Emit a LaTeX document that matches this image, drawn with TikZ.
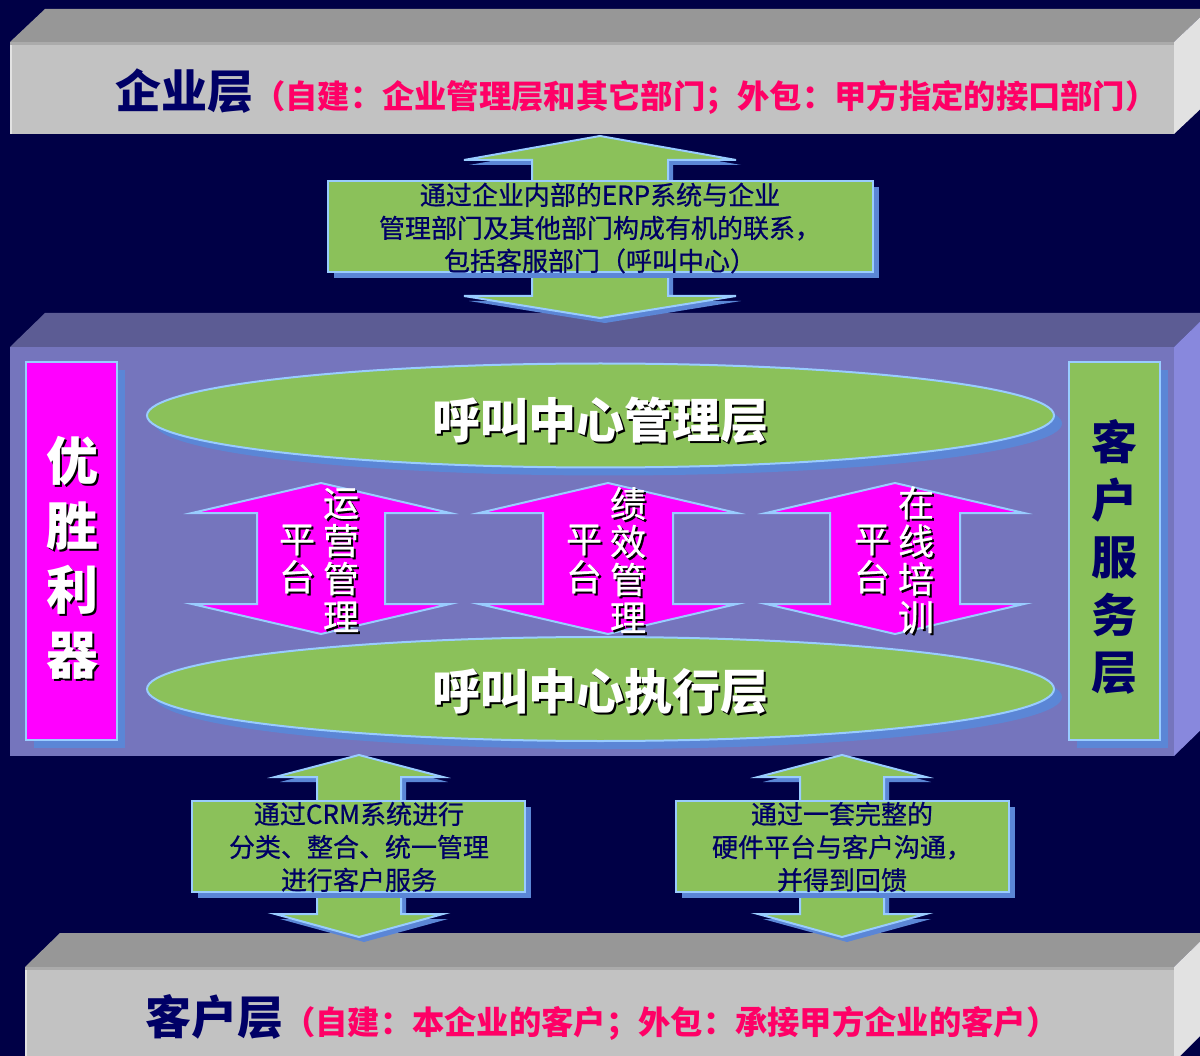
\documentclass[tikz,border=0pt]{standalone}
\usepackage{fontspec}
\setmainfont{Noto Sans CJK SC}
\newfontfamily\medcjk{Noto Sans CJK SC}[FakeBold=0.7]
\usetikzlibrary{shapes.geometric,shadows}
\definecolor{bgnavy}{HTML}{000046}
\definecolor{barfront}{HTML}{C2C2C2}
\definecolor{bartop}{HTML}{979797}
\definecolor{barside}{HTML}{E2E2E2}
\definecolor{barstrip}{HTML}{ABABAB}
\definecolor{purfront}{HTML}{7575BD}
\definecolor{purtop}{HTML}{5C5C94}
\definecolor{purside}{HTML}{8888DD}
\definecolor{lgreen}{HTML}{8BC15A}
\definecolor{mag}{HTML}{FF00FF}
\definecolor{edge}{HTML}{99CCFF}
\definecolor{shblue}{HTML}{5B86D6}
\definecolor{navytext}{HTML}{000066}
\definecolor{redtext}{HTML}{FF0066}
% vertical double arrow: [style] cx, ytop, yshoulder1, yshoulder2, ybottom, half head width, half shaft width
\newcommand\vdarrow[8][]{%
  \path[#1] (#2,#3) -- (#2+#7,#4) -- (#2+#8,#4) -- (#2+#8,#5) -- (#2+#7,#5)
    -- (#2,#6) -- (#2-#7,#5) -- (#2-#8,#5) -- (#2-#8,#4) -- (#2-#7,#4) -- cycle;}
% text with a black drop shadow: name, position, style, text
\newcommand\shadowtext[4]{%
  \node[#3,text=black,xshift=2pt,yshift=-2pt] (#1s) at (#2) {#4};
  \node[#3,text=white] (#1) at (#2) {#4};}
\begin{document}
\begin{tikzpicture}[x=1pt,y=-1pt,
  bshadow/.style={drop shadow={shadow xshift=#1pt,shadow yshift=-#1pt,fill=shblue,opacity=1}},
  bshadow/.default=6,
  greenshape/.style={fill=lgreen,draw=edge,line width=2pt},
  pinkshape/.style={fill=mag,draw=edge,line width=2pt},
  boxtext/.style={text=navytext,font=\medcjk\fontsize{26pt}{33pt}\selectfont,align=center,inner sep=0pt},
  vtext/.style={font=\medcjk\fontsize{36pt}{38pt}\selectfont,align=center,inner sep=0pt},
  lefttext/.style={font=\fontsize{52pt}{64.5pt}\selectfont\bfseries,align=center,inner sep=0pt},
  elltext/.style={font=\fontsize{48pt}{48pt}\selectfont\bfseries,inner sep=0pt}]
\useasboundingbox (0,0) rectangle (1200,1056);
\fill[bgnavy] (0,0) rectangle (1200,1056);

% ---- top bar (enterprise layer)
\fill[bartop] (10,42) -- (45,9) -- (1209,9) -- (1174,42) -- cycle;
\fill[barside] (1174,42) -- (1209,9) -- (1209,101) -- (1174,134) -- cycle;
\fill[barfront] (10,42) rectangle (1174,134);
\fill[barstrip] (10,42) rectangle (1174,45);
\fill[barside] (10,45) rectangle (12,134);
\node[anchor=base west,inner sep=0pt] (toptitle) at (115,109)
  {\fontsize{46pt}{46pt}\selectfont\bfseries\color{navytext}企业层\fontsize{32.3pt}{33pt}\selectfont\color{redtext}（自建：企业管理层和其它部门；外包：甲方指定的接口部门）};

% ---- bottom bar (customer layer)
\fill[bartop] (25,967) -- (60,933) -- (1209,933) -- (1174,967) -- cycle;
\fill[barside] (1174,967) -- (1209,933) -- (1209,1027) -- (1174,1062) -- cycle;
\fill[barfront] (25,967) rectangle (1174,1062);
\fill[barstrip] (25,967) rectangle (1174,970);
\fill[barside] (25,970) rectangle (27,1062);
\node[anchor=base west,inner sep=0pt] (bottitle) at (145,1034)
  {\fontsize{46pt}{46pt}\selectfont\bfseries\color{navytext}客户层\fontsize{32.3pt}{33pt}\selectfont\color{redtext}（自建：本企业的客户；外包：承接甲方企业的客户）};

% ---- middle purple block
\fill[purtop] (10,347) -- (45,313) -- (1209,313) -- (1174,347) -- cycle;
\fill[purside] (1174,347) -- (1209,313) -- (1209,722) -- (1174,756) -- cycle;
\fill[purfront] (10,347) rectangle (1174,756);

% left and right vertical boxes
\draw[pinkshape,bshadow=8] (26,362) rectangle (117,740);
\shadowtext{lefttxt}{72,558}{lefttext}{优\\胜\\利\\器}
\draw[greenshape,bshadow=8] (1069,362) rectangle (1160,740);
\node[font=\fontsize{46pt}{57.5pt}\selectfont\bfseries,align=center,inner sep=0pt,text=navytext]
  (righttxt) at (1114,557) {客\\户\\服\\务\\层};

% ellipses
\node[ellipse,greenshape,bshadow=8,minimum width=907pt,minimum height=104pt,inner sep=0pt]
  (mgmt) at (600.5,415.5) {};
\shadowtext{mgmttxt}{600,420}{elltext}{呼叫中心管理层}
\node[ellipse,greenshape,bshadow=8,minimum width=907pt,minimum height=104pt,inner sep=0pt]
  (exec) at (600.5,689) {};
\shadowtext{exectxt}{600,692}{elltext}{呼叫中心执行层}

% pink double arrows
\vdarrow[pinkshape]{321}{483}{513}{604}{634}{129}{64}
\vdarrow[pinkshape]{608}{483}{513}{604}{634}{129}{65}
\vdarrow[pinkshape]{895}{483}{513}{604}{634}{129}{65}
\shadowtext{p1a}{297,559}{vtext}{平\\台}
\shadowtext{p1b}{341,560}{vtext}{运\\营\\管\\理}
\shadowtext{p2a}{584,559}{vtext}{平\\台}
\shadowtext{p2b}{628,560}{vtext}{绩\\效\\管\\理}
\shadowtext{p3a}{872,559}{vtext}{平\\台}
\shadowtext{p3b}{916,560}{vtext}{在\\线\\培\\训}

% ---- top green arrow with box
\vdarrow[greenshape,bshadow=5]{600}{136}{160}{296}{318}{136}{68}
\draw[greenshape,bshadow=6] (328,181) rectangle (873,272);
\node[boxtext] (erp) at (600,228) {通过企业内部的ERP系统与企业\\管理部门及其他部门构成有机的联系，\\包括客服部门（呼叫中心）};

% ---- bottom green arrows with boxes
\vdarrow[greenshape,bshadow=5]{359}{755}{777}{914}{937}{84}{42}
\draw[greenshape,bshadow=6] (192,801) rectangle (525,892);
\node[boxtext] (crm) at (359,847) {通过CRM系统进行\\分类、整合、统一管理\\进行客户服务};

\vdarrow[greenshape,bshadow=5]{842}{755}{777}{914}{937}{84}{42}
\draw[greenshape,bshadow=6] (676,801) rectangle (1009,892);
\node[boxtext] (hw) at (842,847) {通过一套完整的\\硬件平台与客户沟通，\\并得到回馈};
\end{tikzpicture}
\end{document}
